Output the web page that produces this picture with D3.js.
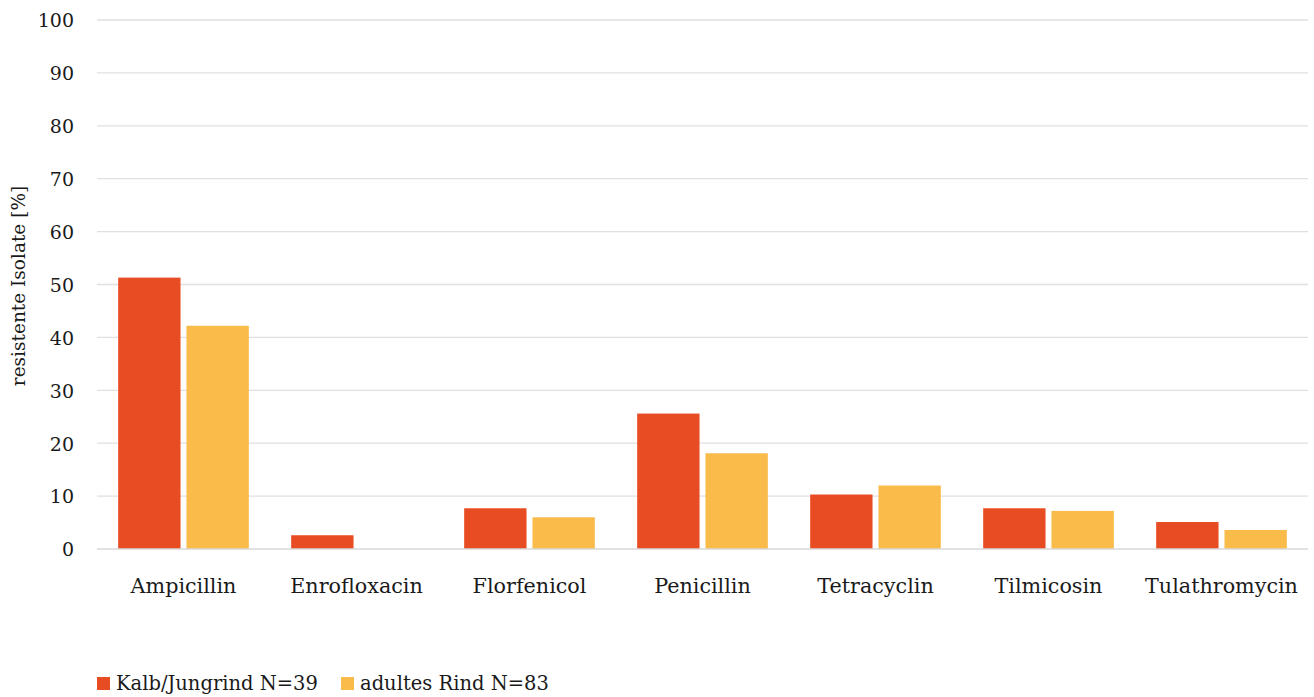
<!DOCTYPE html>
<html><head><meta charset="utf-8">
<script src="https://cdn.jsdelivr.net/npm/d3@7"></script>
<style>body{margin:0;background:#fff;} text{font-family:"DejaVu Serif",serif;fill:#1a1a1a;}</style>
</head><body>
<svg id="c" width="1314" height="697"></svg>
<script>
const categories = ["Ampicillin","Enrofloxacin","Florfenicol","Penicillin","Tetracyclin","Tilmicosin","Tulathromycin"];
const seriesNames = ["Kalb/Jungrind N=39","adultes Rind N=83"];
const kalb = [51.3, 2.6, 7.7, 25.6, 10.3, 7.7, 5.1];
const adult = [42.2, 0, 6.0, 18.1, 12.0, 7.2, 3.6];
const yTicks = [0,10,20,30,40,50,60,70,80,90,100];
const colors = ["#E84C22","#F9BB4A"];

(function(){
const svg = d3.select("#c");
const mL = 97, mR = 1308, mT = 20, mB = 549;
const x = d3.scaleBand().domain(categories).range([mL, mR]).padding(0);
const x1 = d3.scaleBand().domain(seriesNames).range([0, x.bandwidth()]).paddingInner(0.087).paddingOuter(0.31);
const y = d3.scaleLinear().domain([0,100]).range([mB, mT]);

// gridlines
svg.append("g").selectAll("line").data(yTicks.filter(d=>d>0)).join("line")
  .attr("x1", mL).attr("x2", mR).attr("y1", d=>y(d)).attr("y2", d=>y(d))
  .attr("stroke", "#e0e0e0").attr("stroke-width", 1.3);

// y labels
const yAxis = d3.axisLeft(y).tickValues(yTicks).tickSize(0).tickPadding(0);
const ga = svg.append("g").attr("transform", `translate(74,0)`).call(yAxis);
ga.select(".domain").remove();
ga.selectAll("text").style("font-family","DejaVu Serif").style("font-size","19px").attr("fill","#1a1a1a").attr("dy","0.36em");

// bars
const data = categories.map((c,i)=>({c, vals:[kalb[i], adult[i]]}));
const g = svg.append("g");
g.selectAll("g").data(data).join("g")
  .attr("transform", d=>`translate(${x(d.c)},0)`)
  .selectAll("rect").data(d=>d.vals.map((v,j)=>({s:seriesNames[j], v, j})))
  .join("rect")
  .attr("x", d=>x1(d.s)).attr("width", x1.bandwidth())
  .attr("y", d=>y(d.v)).attr("height", d=>y(0)-y(d.v))
  .attr("fill", d=>colors[d.j]);

// x axis line
svg.append("line").attr("x1", mL).attr("x2", mR).attr("y1", y(0)).attr("y2", y(0))
  .attr("stroke", "#d9d9d9").attr("stroke-width", 1.5);

// x labels
const xAxis = d3.axisBottom(x).tickSize(0).tickPadding(0);
const gx = svg.append("g").attr("transform", `translate(0,${593})`).call(xAxis);
gx.select(".domain").remove();
gx.selectAll("text").attr("dy", 0).style("font-family","DejaVu Serif").style("font-size","20.7px").attr("fill","#1a1a1a");

// y title
svg.append("text").attr("transform", `translate(25,${286}) rotate(-90)`)
  .attr("text-anchor","middle").style("font-size","18.5px").text("resistente Isolate [%]");

// legend
const legX = [97, 341];
const leg = svg.append("g").selectAll("g").data(seriesNames).join("g")
  .attr("transform", (d,i)=>`translate(${legX[i]},0)`);
leg.append("rect").attr("x",0).attr("y",677).attr("width",13).attr("height",13).attr("fill",(d,i)=>colors[i]);
leg.append("text").attr("x",19).attr("y",690).style("font-size","19.5px").text(d=>d);
})();
</script>
</body></html>
